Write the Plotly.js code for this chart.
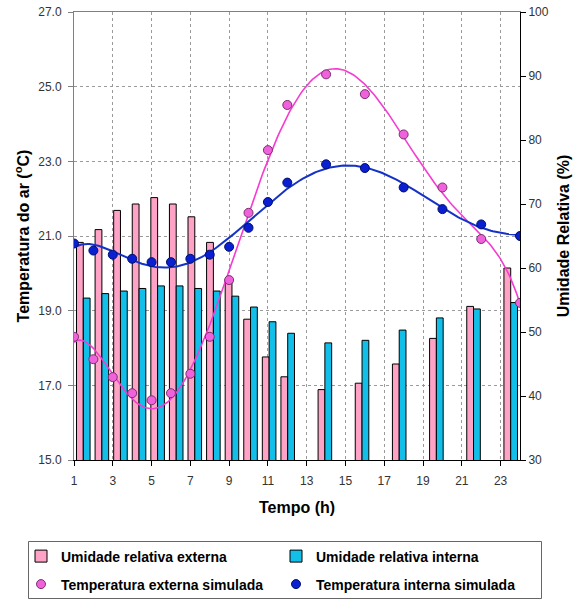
<!DOCTYPE html>
<html><head><meta charset="utf-8">
<script src="https://cdn.plot.ly/plotly-3.0.1.min.js"></script>
<style>html,body{margin:0;padding:0;background:#fff}#chart{width:584px;height:601px}</style>
</head><body><div id="chart"></div>
<script>
// ---- data ----
const hours = [1,2,3,4,5,6,7,8,9,10,11,12,14,16,18,20,22,24];
const rhExternal = [64,66,69,70,71,70,68,64,58.2,52,46.1,43,41,42,45,49,54,60];
const rhInternal = [55.3,56,56.4,56.8,57.2,57.2,56.8,56.4,55.6,53.9,51.6,49.8,48.3,48.7,50.3,52.2,53.6,54.6];
const tempExternal = [18.30,17.70,17.22,16.79,16.60,16.79,17.31,18.30,19.82,21.62,23.30,24.51,25.33,24.80,23.72,22.30,20.92,19.21];
const tempInternal = [20.80,20.61,20.50,20.39,20.30,20.30,20.39,20.50,20.71,21.22,21.91,22.43,22.92,22.82,22.30,21.72,21.31,21.00];
const xTickVals = [1,3,5,7,9,11,13,15,17,19,21,23];
const tempTickVals = [15,17,19,21,23,25,27];
const rhTickVals = [30,40,50,60,70,80,90,100];
const names = ['Umidade relativa externa','Umidade relativa interna','Temperatura externa simulada','Temperatura interna simulada'];

// ---- polynomial (order 6) least-squares trendline, as in the original spreadsheet ----
function polyTrend(xs, ys, deg){
  const n = deg+1, c0 = 12.5, s = 11.5;
  const A = Array.from({length:n},()=>new Array(n+1).fill(0));
  xs.forEach((x,k)=>{
    const t=(x-c0)/s; const p=[]; for(let i=0;i<n;i++) p.push(Math.pow(t,i));
    for(let i=0;i<n;i++){ A[i][n]+=p[i]*ys[k]; for(let j=0;j<n;j++) A[i][j]+=p[i]*p[j]; }
  });
  for(let i=0;i<n;i++){
    let m=i; for(let r=i+1;r<n;r++) if(Math.abs(A[r][i])>Math.abs(A[m][i])) m=r;
    [A[i],A[m]]=[A[m],A[i]];
    for(let r=0;r<n;r++){ if(r===i) continue; const f=A[r][i]/A[i][i]; for(let c=i;c<=n;c++) A[r][c]-=f*A[i][c]; }
  }
  const coef = A.map((row,i)=>row[n]/row[i]);
  return x=>{ const t=(x-c0)/s; let v=0; for(let i=n-1;i>=0;i--) v=v*t+coef[i]; return v; };
}
const fx = []; for(let x=1;x<=24.0001;x+=0.1) fx.push(+x.toFixed(2));
const fExt = polyTrend(hours, tempExternal, 6);
const fInt = polyTrend(hours, tempInternal, 6);

const FONT = 'Liberation Sans, Arial, sans-serif';
const pink='#FFA3C6', cyan='#12BFE9', mag='#F062DC', navy='#0A1ED2';

const traces = [
  {type:'bar', name:names[0], x:hours, y:rhExternal, xaxis:'x', yaxis:'y',
   marker:{color:pink, line:{color:'#000', width:1}}, legend:'legend'},
  {type:'bar', name:names[1], x:hours, y:rhInternal, xaxis:'x', yaxis:'y',
   marker:{color:cyan, line:{color:'#000', width:1}}, legend:'legend2'},
  {type:'scatter', mode:'lines', x:fx, y:fx.map(fExt), xaxis:'x2', yaxis:'y2', showlegend:false,
   line:{color:'#F53CD2', width:1.6}, hoverinfo:'skip'},
  {type:'scatter', mode:'lines', x:fx, y:fx.map(fInt), xaxis:'x2', yaxis:'y2', showlegend:false,
   line:{color:'#1432C8', width:2}, hoverinfo:'skip'},
  {type:'scatter', mode:'markers', name:names[2], x:hours, y:tempExternal, xaxis:'x2', yaxis:'y2',
   marker:{color:mag, size:9, line:{color:'#7a2f6e', width:1}}, legend:'legend3'},
  {type:'scatter', mode:'markers', name:names[3], x:hours, y:tempInternal, xaxis:'x2', yaxis:'y2',
   marker:{color:navy, size:9, line:{color:'#00106a', width:1}}, legend:'legend4'}
];

const PL=74, PT=12, PW=446, PH=448;
const px = v => (v-PL)/PW, py = v => (PT+PH-v)/PH;
const legBase = {orientation:'h', xanchor:'left', yanchor:'middle', bgcolor:'rgba(0,0,0,0)', borderwidth:0,
  font:{family:FONT, size:14, color:'#000', weight:'bold'}};

const layout = {
  width:584, height:601,
  margin:{l:PL, r:584-PL-PW, t:PT, b:601-PT-PH, autoexpand:false},
  paper_bgcolor:'#fff', plot_bgcolor:'#fff',
  font:{family:FONT, color:'#333'},
  barmode:'group', bargap:0.27, bargroupgap:0,
  xaxis:{range:[0.5,24.5], side:'top', showticklabels:false, ticks:'', showgrid:false, zeroline:false,
    showline:true, linecolor:'#808080', linewidth:1, fixedrange:true},
  yaxis:{range:[30,100], tickvals:rhTickVals, side:'right', anchor:'x', showgrid:false, zeroline:false,
    showline:true, linecolor:'#000', linewidth:1, ticks:'outside', ticklen:5, tickcolor:'#000',
    tickfont:{family:FONT, size:12, color:'#333'},
    title:{text:'Umidade Relativa (%)', standoff:10, font:{family:FONT, size:16, color:'#000', weight:'bold'}}},
  xaxis2:{range:[1,24], overlaying:'x', anchor:'y2', side:'bottom', tickvals:xTickVals,
    showgrid:true, gridcolor:'#9a9a9a', griddash:'3px,3px', gridwidth:1, zeroline:false,
    showline:true, linecolor:'#000', linewidth:1, ticks:'outside', ticklen:5, tickcolor:'#000',
    ticklabelstandoff:5,
    tickfont:{family:FONT, size:12, color:'#333'},
    title:{text:'Tempo (h)', standoff:14, font:{family:FONT, size:16, color:'#000', weight:'bold'}}},
  yaxis2:{range:[15,27], tickvals:tempTickVals, tickformat:'.1f', overlaying:'y', anchor:'x2', side:'left',
    showgrid:true, gridcolor:'#9a9a9a', griddash:'3px,3px', gridwidth:1, zeroline:false,
    showline:true, linecolor:'#808080', linewidth:1, ticks:'outside', ticklen:5, tickcolor:'#808080',
    ticklabelstandoff:4,
    tickfont:{family:FONT, size:12, color:'#333'},
    title:{text:'Temperatura do ar (<sup>o</sup>C)', standoff:4, font:{family:FONT, size:16, color:'#000', weight:'bold'}}},
  legend: Object.assign({}, legBase, {x:px(21), y:py(556.5)}),
  legend2: Object.assign({}, legBase, {x:px(276), y:py(556.5)}),
  legend3: Object.assign({}, legBase, {x:px(21), y:py(584.5)}),
  legend4: Object.assign({}, legBase, {x:px(276), y:py(584.5)}),
  shapes:[{type:'rect', xref:'paper', yref:'paper', x0:px(28.5), x1:px(541.5), y0:py(598.5), y1:py(541.5),
    line:{color:'#666', width:1}, fillcolor:'rgba(0,0,0,0)'}]
};

Plotly.newPlot('chart', traces, layout, {displayModeBar:false, staticPlot:true});
</script></body></html>
